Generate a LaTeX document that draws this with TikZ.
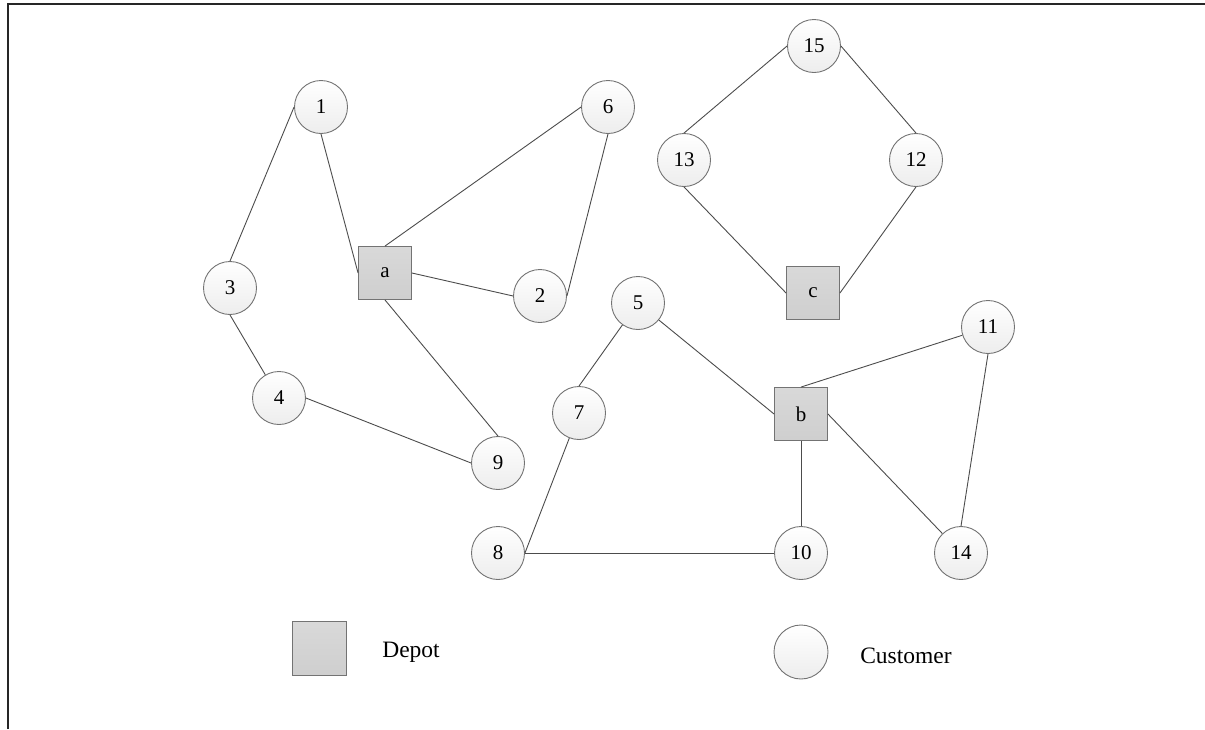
\documentclass[tikz,border=0pt]{standalone}
\usepackage{fontspec}
\setmainfont{Liberation Serif}
\begin{document}
\begin{tikzpicture}[x=1pt,y=-1pt,
  customer/.style={circle,draw=black!55,line width=0.9pt,minimum size=53pt,inner sep=0pt,
    top color=white,bottom color=black!7,font=\fontsize{21}{24}\selectfont},
  depot/.style={rectangle,draw=black!55,line width=0.9pt,minimum size=53pt,inner sep=0pt,
    top color=black!15,bottom color=black!19,font=\fontsize{21}{24}\selectfont},
  edge/.style={draw=black!70,line width=0.9pt},
  legendtext/.style={font=\fontsize{23.5}{26}\selectfont,inner sep=0pt}]
\useasboundingbox (0,0) rectangle (1205,729);
% frame
\draw[line width=2pt,black!85] (8,729) -- (8,4) -- (1206,4);

% depots
\node[depot] (a) at (385,273) {a};
\node[depot] (b) at (801,414) {b};
\node[depot] (c) at (813,293) {c};

% customers
\node[customer] (n1) at (321,107) {1};
\node[customer] (n2) at (540,296) {2};
\node[customer] (n3) at (230,288) {3};
\node[customer] (n4) at (279,398) {4};
\node[customer] (n5) at (638,303) {5};
\node[customer] (n6) at (608,107) {6};
\node[customer] (n7) at (579,413) {7};
\node[customer] (n8) at (498,553) {8};
\node[customer] (n9) at (498,463) {9};
\node[customer] (n10) at (801,553) {10};
\node[customer] (n11) at (988,327) {11};
\node[customer] (n12) at (916,160) {12};
\node[customer] (n13) at (684,160) {13};
\node[customer] (n14) at (961,553) {14};
\node[customer] (n15) at (814,46) {15};

% route of depot a
\draw[edge] (n1.west) -- (n3.north);
\draw[edge] (n1.south) -- (a.west);
\draw[edge] (a.north) -- (n6.west);
\draw[edge] (n6.south) -- (n2.east);
\draw[edge] (a.east) -- (n2.west);
\draw[edge] (a.south) -- (n9.north);
\draw[edge] (n3.south) -- (n4);
\draw[edge] (n4.east) -- (n9.west);

% route of depot c
\draw[edge] (n15.west) -- (n13.north);
\draw[edge] (n15.east) -- (n12.north);
\draw[edge] (n13.south) -- (c.west);
\draw[edge] (n12.south) -- (c.east);

% route of depot b
\draw[edge] (n5) -- (n7.north);
\draw[edge] (n5) -- (b.west);
\draw[edge] (n7) -- (n8.east);
\draw[edge] (n8.east) -- (n10.west);
\draw[edge] (b.south) -- (n10.north);
\draw[edge] (b.north) -- (n11);
\draw[edge] (b.east) -- (n14);
\draw[edge] (n11.south) -- (n14.north);

% legend
\node[depot,minimum size=54pt] (ldepot) at (319,648) {};
\node[legendtext] (tdepot) at (411,652) {Depot};
\node[customer,minimum size=54pt] (lcust) at (801,652) {};
\node[legendtext] (tcust) at (906,656) {Customer};
\end{tikzpicture}
\end{document}
